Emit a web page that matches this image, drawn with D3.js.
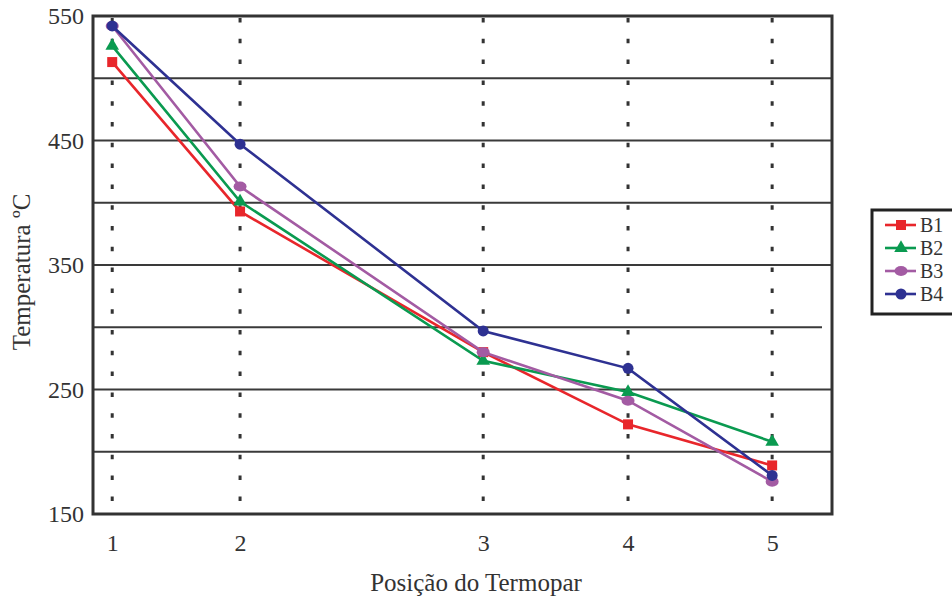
<!DOCTYPE html>
<html><head><meta charset="utf-8">
<script src="https://cdn.jsdelivr.net/npm/d3@7"></script>
<style>body{margin:0;background:#fff}svg{display:block}</style>
</head><body><svg id="c" width="952" height="601"></svg>
<script>
const categories = ["1","2","3","4","5"];
const positions = [2.6, 19.9, 52.8, 72.4, 91.9];
const yTicks = [150, 250, 350, 450, 550];
const gridValues = [200, 250, 300, 350, 400, 450, 500];
const seriesNames = ["B1","B2","B3","B4"];
const seriesColors = ["#e8262b","#0a9a50","#a35ba3","#2e3192"];
const seriesSymbols = ["square","triangle","ellipse","circle"];
const B1 = [513, 393, 280, 222, 189];
const B2 = [526, 401, 273, 248, 208];
const B3 = [542, 413, 280, 241, 176];
const B4 = [542, 447, 297, 267, 181];
const seriesValues = [B1, B2, B3, B4];

const svg = d3.select("#c");
const L = 93, R = 832, T = 16, B = 514;
const x = d3.scaleLinear().domain([0, 100]).range([L, R]);
const y = d3.scaleLinear().domain([150, 550]).range([B, T]);
const font = "Liberation Serif, DejaVu Serif, Times New Roman, serif";

svg.append("g").selectAll("line").data(gridValues).join("line")
  .attr("x1", L).attr("x2", d => d === 300 ? 822 : R)
  .attr("y1", d => y(d)).attr("y2", d => y(d))
  .attr("stroke", "#3a3a3a").attr("stroke-width", 2);

svg.append("g").selectAll("line").data(positions).join("line")
  .attr("x1", d => x(d)).attr("x2", d => x(d))
  .attr("y1", T + 2).attr("y2", B)
  .attr("stroke", "#333").attr("stroke-width", 3)
  .attr("stroke-dasharray", "4.5,16.3");

const yAxis = d3.axisLeft(y).tickValues(yTicks).tickSize(0).tickPadding(9);
svg.append("g").attr("transform", `translate(${L},0)`).call(yAxis)
  .call(g => g.select(".domain").remove())
  .selectAll("text").style("font-family", font).style("font-size", "24px").attr("fill", "#333");
const xAxis = d3.axisBottom(x).tickValues(positions).tickFormat((d, i) => categories[i]).tickSize(0).tickPadding(20);
svg.append("g").attr("transform", `translate(0,${B})`).call(xAxis)
  .call(g => g.select(".domain").remove())
  .selectAll("text").style("font-family", font).style("font-size", "24px").attr("fill", "#333");

const line = d3.line().x((d, i) => x(positions[i])).y(d => y(d));
function marker(g, sym, color, cx, cy) {
  if (sym === "square") g.append("rect").attr("x", cx - 5).attr("y", cy - 5).attr("width", 10).attr("height", 10).attr("fill", color);
  else if (sym === "triangle") g.append("path").attr("d", d3.symbol(d3.symbolTriangle, 80)()).attr("transform", `translate(${cx},${cy})`).attr("fill", color);
  else if (sym === "ellipse") g.append("ellipse").attr("cx", cx).attr("cy", cy).attr("rx", 6.5).attr("ry", 5).attr("fill", color);
  else g.append("circle").attr("cx", cx).attr("cy", cy).attr("r", 5.5).attr("fill", color);
}
seriesValues.forEach((vals, s) => {
  const g = svg.append("g");
  g.append("path").datum(vals).attr("d", line).attr("fill", "none")
    .attr("stroke", seriesColors[s]).attr("stroke-width", 2.6);
  vals.forEach((v, i) => marker(g, seriesSymbols[s], seriesColors[s], x(positions[i]), y(v)));
});

svg.append("rect").attr("x", L).attr("y", T).attr("width", R - L).attr("height", B - T)
  .attr("fill", "none").attr("stroke", "#333").attr("stroke-width", 3);

svg.append("text").attr("x", 476).attr("y", 591).attr("text-anchor", "middle")
  .style("font-family", font).style("font-size", "25px").attr("fill", "#333").text("Posição do Termopar");
svg.append("text").attr("transform", "translate(30,272) rotate(-90)").attr("text-anchor", "middle")
  .style("font-family", font).style("font-size", "25px").attr("fill", "#333").text("Temperatura ºC");

const lg = svg.append("g");
lg.append("rect").attr("x", 872).attr("y", 210).attr("width", 90).attr("height", 104)
  .attr("fill", "#fff").attr("stroke", "#222").attr("stroke-width", 3);
seriesNames.forEach((n, s) => {
  const ly = 225 + s * 23;
  lg.append("line").attr("x1", 885).attr("x2", 916).attr("y1", ly).attr("y2", ly)
    .attr("stroke", seriesColors[s]).attr("stroke-width", 2.6);
  marker(lg, seriesSymbols[s], seriesColors[s], 901, ly);
  lg.append("text").attr("x", 920).attr("y", ly + 7).style("font-family", font)
    .style("font-size", "20px").attr("fill", "#333").text(n);
});
</script></body></html>
